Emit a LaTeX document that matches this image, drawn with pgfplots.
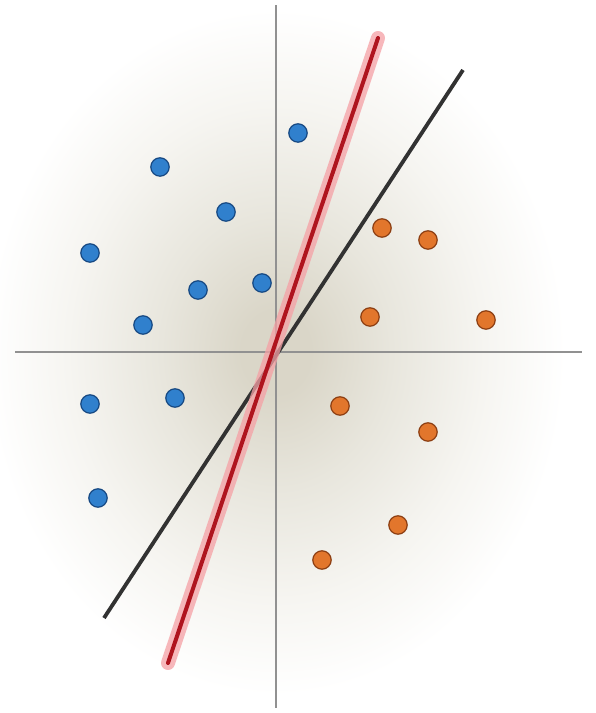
\documentclass[border=0pt]{standalone}
\usepackage{pgfplots}
\pgfplotsset{compat=1.18}
\definecolor{bgc}{RGB}{218,214,200}
\definecolor{bgm}{RGB}{232,230,221}
\definecolor{bgo}{RGB}{246,245,241}
\definecolor{bluef}{RGB}{48,128,205}
\definecolor{blued}{RGB}{22,72,130}
\definecolor{orangef}{RGB}{226,118,44}
\definecolor{oranged}{RGB}{140,62,18}
\definecolor{redcore}{RGB}{175,20,30}
\definecolor{redhalo}{RGB}{245,160,165}
\definecolor{darkline}{RGB}{50,50,50}
\definecolor{axgray}{RGB}{145,145,145}
\pgfdeclareradialshading{bgshade}{\pgfpoint{0bp}{0bp}}{color(0bp)=(bgc); color(2.7bp)=(bgc); color(9bp)=(bgm); color(16.3bp)=(bgo); color(22.6bp)=(white); color(50bp)=(white)}
\begin{document}
\begin{tikzpicture}
\begin{axis}[
  scale only axis, width=298bp, height=356.5bp,
  xmin=0, xmax=596, ymin=0, ymax=713,
  hide axis, clip=true,
]
\path[shading=bgshade] (axis cs:-44,-19) rectangle (axis cs:596,741);
% reference axes
\addplot[axgray, line width=0.8bp] coordinates {(15,361) (582,361)};
\addplot[axgray, line width=0.8bp] coordinates {(276,5) (276,708)};
% black separator
\addplot[darkline, line width=1.9bp] coordinates {(104,95) (463,643)};
% red separator with halo
\addplot[redhalo, line width=7bp, line cap=round, opacity=0.75] coordinates {(168,50) (378,675)};
\addplot[redcore, line width=2bp, line cap=round] coordinates {(168,50) (378,675)};
% blue class
\addplot[only marks, mark=*, mark size=4.6bp, mark options={fill=bluef, draw=blued, line width=0.6bp}] coordinates {
(298,580) (160,546) (226,501) (90,460) (198,423) (262,430) (143,388) (90,309) (175,315) (98,215)
};
% orange class
\addplot[only marks, mark=*, mark size=4.6bp, mark options={fill=orangef, draw=oranged, line width=0.6bp}] coordinates {
(382,485) (428,473) (370,396) (486,393) (340,307) (428,281) (398,188) (322,153)
};
\end{axis}
\end{tikzpicture}
\end{document}
